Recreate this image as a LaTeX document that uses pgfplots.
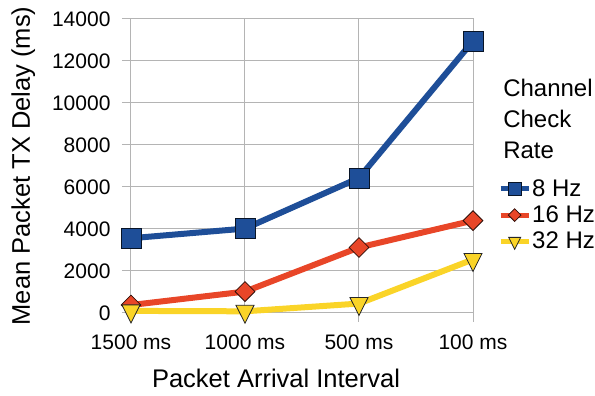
\documentclass[border=0pt]{standalone}
\usepackage{pgfplots}
\pgfplotsset{compat=1.18}
\usepackage{fontspec}
\setmainfont{Liberation Sans}
\definecolor{cblue}{RGB}{30,78,152}
\definecolor{cred}{RGB}{232,70,40}
\definecolor{cyel}{RGB}{250,212,40}
\definecolor{gridc}{RGB}{180,180,180}
\begin{document}
\begin{tikzpicture}
\useasboundingbox (-131pt,-83pt) rectangle (464pt,313pt);
\begin{axis}[
  at={(0pt,0pt)}, anchor=south west,
  scale only axis, width=342pt, height=294pt,
  xmin=0, xmax=3, ymin=0, ymax=14000,
  xtick={0,1,2,3}, xticklabels={1500 ms,1000 ms,500 ms,100 ms},
  ytick={0,2000,...,14000},
  grid=major, major grid style={gridc, line width=1pt},
  axis line style={gridc, line width=1pt},
  tick style={gridc, line width=1pt},
  tick align=outside, major tick length=9pt,
  tick pos=left,
  /pgf/number format/assume math mode=true,
  /pgf/number format/1000 sep={},
  scaled y ticks=false,
  clip=false,
  font=\fontsize{21}{25}\selectfont,
  ticklabel style={font=\fontsize{21}{25}\selectfont},
  yticklabel style={xshift=-8pt},
  xticklabel style={yshift=-9pt},
  xlabel={Packet Arrival Interval},
  ylabel={Mean Packet TX Delay (ms)},
  label style={font=\fontsize{25.5}{30}\selectfont},
  xlabel style={at={(axis description cs:0.424,-0.222)}, anchor=center},
  ylabel style={at={(axis description cs:-0.315,0.5)}, anchor=center},
  legend style={at={(axis description cs:1.073,0.333)}, anchor=west, draw=none, fill=none,
    inner sep=0pt, row sep=6pt, font=\fontsize{24}{28}\selectfont,
    nodes={inner sep=1pt, anchor=west}},
  legend cell align=left,
  legend image code/.code={\draw[mark repeat=2,mark phase=2] plot coordinates {(0pt,0pt)(14pt,0pt)(28pt,0pt)};},
]
\addplot[cblue, line width=6pt, mark=square*, mark size=10pt,
  mark options={fill=cblue, draw=black!75!cblue, line width=0.8pt},
  legend image post style={mark size=6.5pt, line width=5pt}]
  coordinates {(0,3560) (1,4020) (2,6430) (3,12950)};
\addlegendentry{8 Hz}
\addplot[cred, line width=6pt, mark=square*, mark size=7pt,
  mark options={rotate=45, fill=cred, draw=black!80!cred, line width=0.8pt},
  legend image post style={mark size=4.5pt, line width=5pt}]
  coordinates {(0,380) (1,1020) (2,3120) (3,4400)};
\addlegendentry{16 Hz}
\addplot[cyel, line width=6pt, mark=triangle*, mark size=12pt,
  mark options={rotate=180, xscale=0.87, fill=cyel, draw=black!85, line width=0.8pt},
  legend image post style={mark size=8pt, line width=5pt}]
  coordinates {(0,100) (1,80) (2,450) (3,2550)};
\addlegendentry{32 Hz}
\node[anchor=west, align=left, font=\fontsize{24}{31}\selectfont, inner sep=0pt]
  at (axis description cs:1.088,0.66) {Channel\\Check\\Rate};
\end{axis}
\end{tikzpicture}
\end{document}
